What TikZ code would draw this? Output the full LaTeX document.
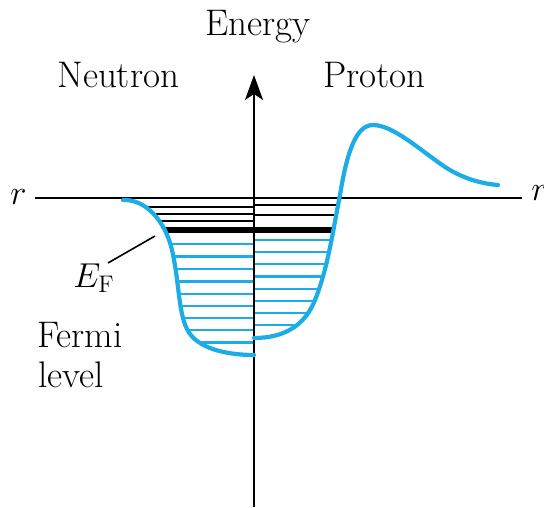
\documentclass[tikz,border=0pt]{standalone}
\usetikzlibrary{arrows.meta}
\definecolor{wellblue}{RGB}{28,172,230}
\begin{document}
\begin{tikzpicture}[x=0.5pt,y=-0.5pt,
  lbl/.style={inner sep=0pt,anchor=base west,font=\fontsize{18.5}{22}\selectfont},
  axisline/.style={line width=1pt,black},
  wellcurve/.style={line width=2.1pt,wellblue,line cap=round,line join=round},
  bluelevel/.style={line width=1.2pt,wellblue},
  blacklevel/.style={line width=0.8pt,black},
  fermilevel/.style={line width=2.6pt,black}]
\useasboundingbox (0,0) rectangle (544,507);
% axes
\coordinate (xl) at (35,198);
\coordinate (xr) at (522,198);
\coordinate (yb) at (254,507);
\coordinate (yt) at (254,75);
% neutron levels (clipped to the well)
\begin{scope}
\clip (123,200) .. controls (145,199) and (165,220) .. (172,250)
  .. controls (180,285) and (178,318) .. (190,334)
  .. controls (202,350) and (230,355) .. (254,355)
  -- (254,195) -- (123,195) -- cycle;
\foreach \yy in {207,214,221} \draw[blacklevel] (100,\yy) -- (254,\yy);
\foreach \yy in {244,256.5,269,281.5,294,306,318,330,342.5} \draw[bluelevel] (100,\yy) -- (254,\yy);
\draw[fermilevel] (100,230) -- (254,230);
\end{scope}
% proton levels (clipped to the well)
\begin{scope}
\clip (254,338) .. controls (285,338) and (305,325) .. (315,300)
  .. controls (328,268) and (333,230) .. (340,195)
  -- (340,190) -- (254,190) -- cycle;
\foreach \yy in {205,215} \draw[blacklevel] (254,\yy) -- (360,\yy);
\foreach \yy in {240,252,264,276.5,289,301,313,325} \draw[bluelevel] (254,\yy) -- (360,\yy);
\draw[fermilevel] (254,230) -- (360,230);
\end{scope}
\draw[axisline] (xl) -- (xr);
\draw[axisline,-{Stealth[length=12.5pt,width=9pt,inset=3pt]}] (yb) -- (yt);
% wells
\draw[wellcurve] (123,200) .. controls (145,199) and (165,220) .. (172,250)
  .. controls (180,285) and (178,318) .. (190,334)
  .. controls (202,350) and (230,355) .. (254,355);
\draw[wellcurve] (254,338) .. controls (285,338) and (305,325) .. (315,300)
  .. controls (328,268) and (333,230) .. (340,195)
  .. controls (347,152) and (356,125) .. (373,125)
  .. controls (393,125) and (420,150) .. (445,167)
  .. controls (465,180) and (485,184) .. (498,185);
% labels
\node[lbl] (energy) at (205,36) {Energy};
\node[lbl] (neutron) at (57,88) {Neutron};
\node[lbl] (proton) at (323,88) {Proton};
\node[lbl] (rl) at (10,205) {$r$};
\node[lbl] (rr) at (531,201) {$r$};
\node[lbl] (ef) at (73,287) {$E_{\mathrm{F}}$};
\node[lbl] (fermi) at (37,347) {Fermi};
\node[lbl] (level) at (38,387) {level};
\coordinate (efa) at (108,263);
\coordinate (efb) at (155,236);
\draw[line width=0.8pt] (efa) -- (efb);
\end{tikzpicture}
\end{document}
